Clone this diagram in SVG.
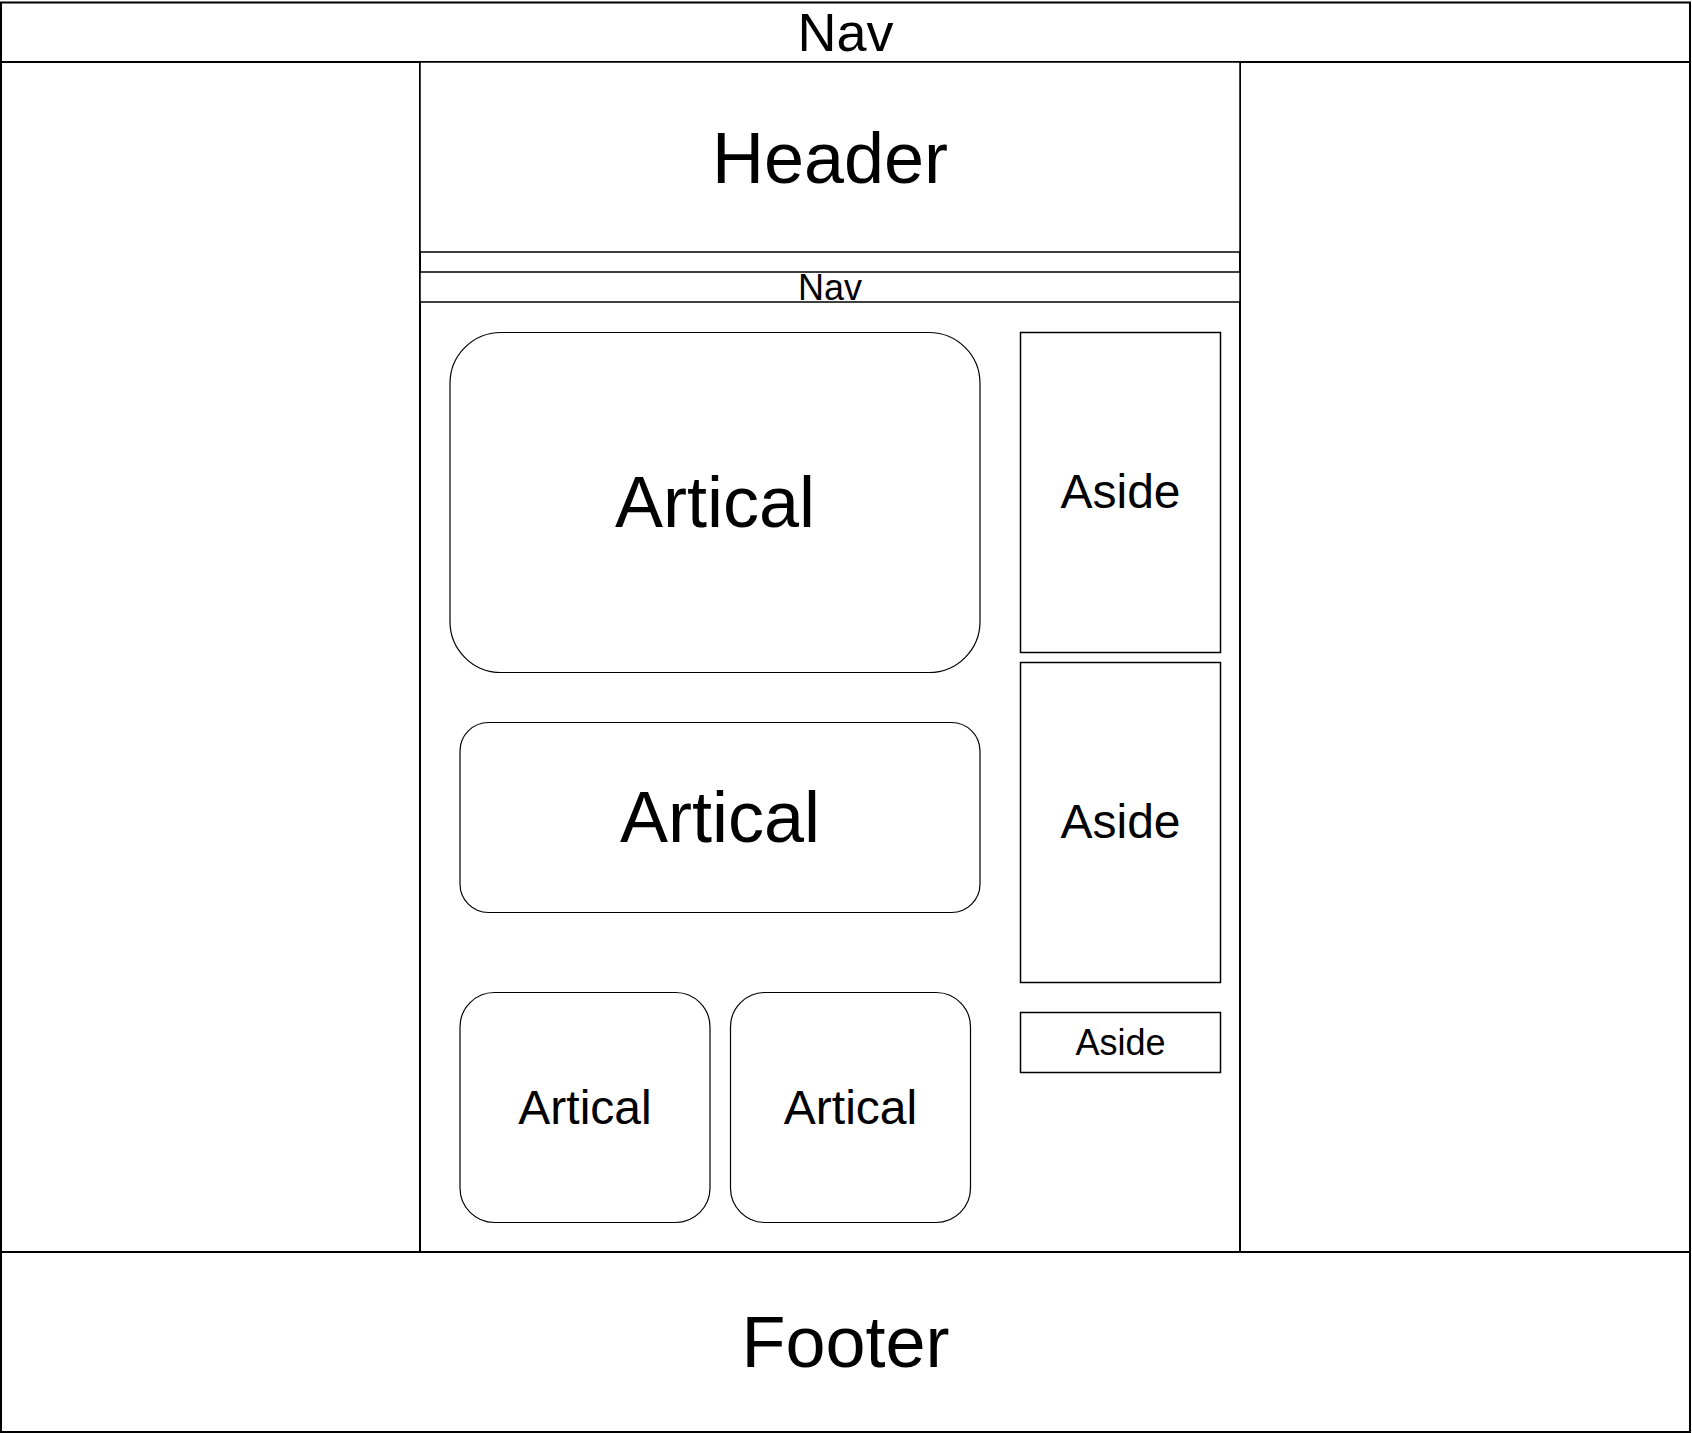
<svg xmlns="http://www.w3.org/2000/svg" width="1692" height="1433" viewBox="0 0 1692 1433">
<style>
.box{fill:#ffffff;stroke:#000000;stroke-width:2}
.thin{fill:#ffffff;stroke:#000000;stroke-width:1.5}
.round{fill:#ffffff;stroke:#000000;stroke-width:1.2}
text{font-family:"Liberation Sans",Arial,sans-serif;fill:#000000;text-anchor:middle}
</style>
<rect x="0" y="0" width="1692" height="1433" fill="#ffffff"/>
<g id="body"><rect class="box" x="1" y="62" width="1689" height="1190"/></g>
<g id="top-nav"><rect class="box" x="1" y="2.5" width="1689" height="59.5"/><text x="845.5" y="51" font-size="54">Nav</text></g>
<g id="column"><rect class="box" x="420" y="62" width="820" height="1190"/></g>
<g id="header"><rect class="thin" x="420" y="62" width="820" height="190"/><text x="830" y="182.5" font-size="72">Header</text></g>
<g id="inner-nav"><rect class="thin" x="420" y="272" width="820" height="30"/><text x="830" y="300" font-size="36">Nav</text></g>
<g id="article-1"><rect class="round" x="450" y="332.5" width="530" height="340" rx="51" ry="51"/><text x="715" y="527" font-size="72">Artical</text></g>
<g id="article-2"><rect class="round" x="460" y="722.5" width="520" height="190" rx="28.5" ry="28.5"/><text x="720" y="842" font-size="72">Artical</text></g>
<g id="article-3"><rect class="round" x="460" y="992.5" width="250" height="230" rx="34.5" ry="34.5"/><text x="585" y="1124" font-size="48">Artical</text></g>
<g id="article-4"><rect class="round" x="730.5" y="992.5" width="240" height="230" rx="34.5" ry="34.5"/><text x="850.5" y="1124" font-size="48">Artical</text></g>
<g id="aside-1"><rect class="thin" x="1020.5" y="332.5" width="200" height="320"/><text x="1120.5" y="508" font-size="48">Aside</text></g>
<g id="aside-2"><rect class="thin" x="1020.5" y="662.5" width="200" height="320"/><text x="1120.5" y="838" font-size="48">Aside</text></g>
<g id="aside-3"><rect class="thin" x="1020.5" y="1012.5" width="200" height="60"/><text x="1120.5" y="1055" font-size="36">Aside</text></g>
<g id="footer"><rect class="box" x="1" y="1252" width="1689" height="180"/><text x="845.5" y="1367" font-size="72">Footer</text></g>
<g id="connectors"></g>
</svg>
